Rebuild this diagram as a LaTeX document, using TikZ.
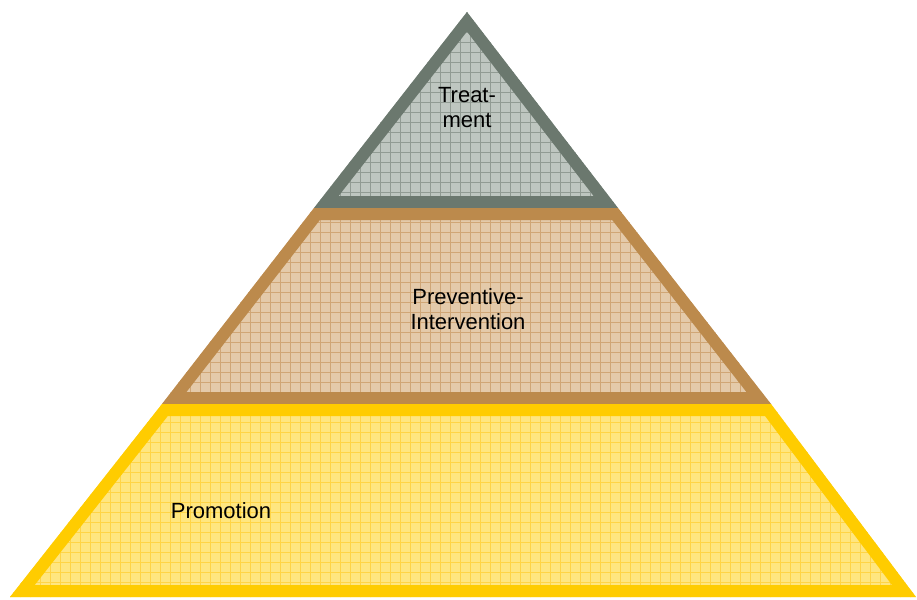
\documentclass[tikz,border=0pt]{standalone}
\usepackage{fontspec}
\setmainfont{Liberation Sans}
\definecolor{grayB}{RGB}{107,120,110}
\definecolor{grayF}{RGB}{190,198,192}
\definecolor{grayG}{RGB}{145,155,147}
\definecolor{brownB}{RGB}{188,138,76}
\definecolor{brownF}{RGB}{228,202,170}
\definecolor{brownG}{RGB}{208,166,118}
\definecolor{yelB}{RGB}{255,204,0}
\definecolor{yelF}{RGB}{255,230,128}
\definecolor{yelG}{RGB}{255,212,70}
\tikzset{lbl/.style={font=\fontsize{22}{25}\selectfont, align=center, inner sep=0pt}}
\newcommand{\tier}[4]{%
  \begin{scope}
    \clip #1;
    \fill[#3] #1;
    \foreach \gx in {0,10,...,920} {\draw[#4, line width=0.7pt] (\gx,0) -- (\gx,600);}
    \foreach \gy in {2,12,...,602} {\draw[#4, line width=0.7pt] (0,\gy) -- (920,\gy);}
    \draw[#2, line width=24pt, line join=miter] #1;
  \end{scope}}
\begin{document}
\begin{tikzpicture}[x=1pt,y=-1pt]
\useasboundingbox (0,0) rectangle (917,599);
\tier{(467,12) -- (618,208) -- (314,208) -- cycle}{grayB}{grayF}{grayG}
\tier{(314,208) -- (618,208) -- (771,404) -- (162,404) -- cycle}{brownB}{brownF}{brownG}
\tier{(162,404) -- (771,404) -- (916,597) -- (10,597) -- cycle}{yelB}{yelF}{yelG}
\node[lbl] (treat) at (467,108) {Treat-\\ment};
\node[lbl] (prev) at (468,309) {Preventive-\\Intervention};
\node[lbl] (prom) at (221,511) {Promotion};
\end{tikzpicture}
\end{document}
